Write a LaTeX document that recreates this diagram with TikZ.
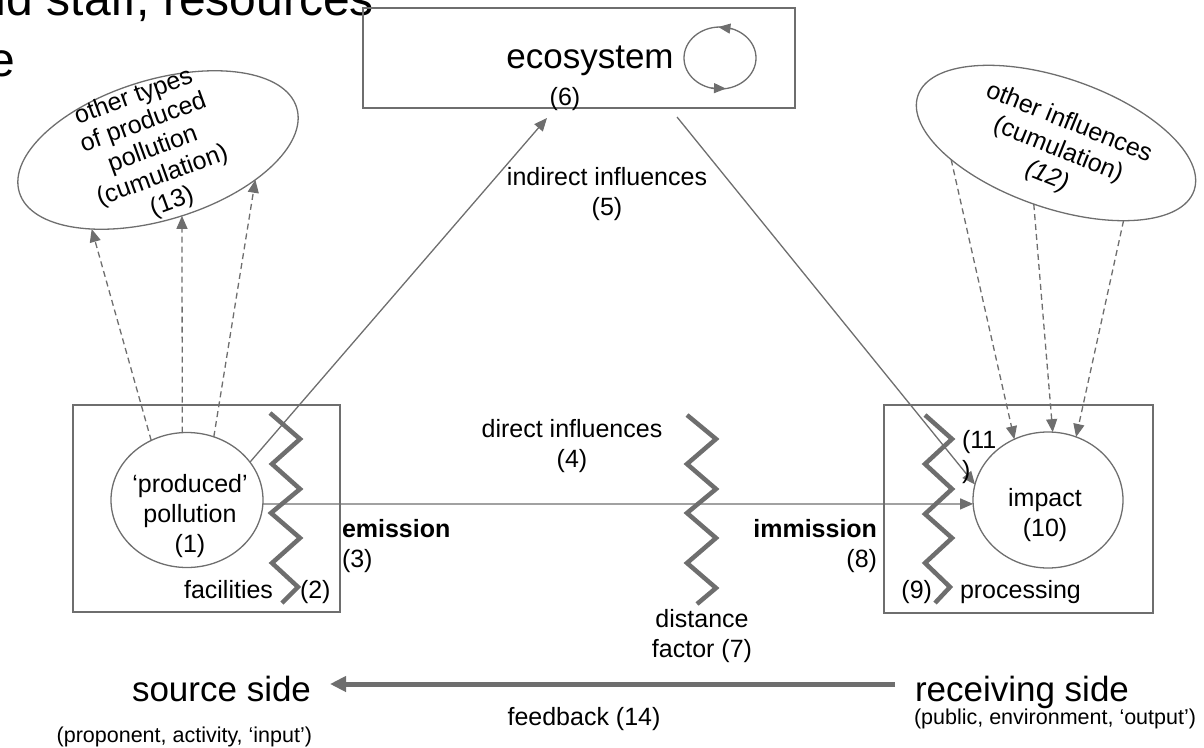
\documentclass[tikz,border=0pt]{standalone}
\usepackage{fontspec}
\setmainfont{Liberation Sans}
\usetikzlibrary{arrows.meta,shapes.geometric,calc}
\definecolor{ln}{HTML}{6E6E6E}
\begin{document}
\begin{tikzpicture}[x=1pt,y=-1pt,
  every node/.style={inner sep=0pt, outer sep=0pt},
  lbl/.style={font=\fontsize{25}{30}\selectfont, align=center},
  big/.style={font=\fontsize{35}{42}\selectfont},
  small/.style={font=\fontsize{21.5}{26}\selectfont},
  boxst/.style={draw=ln, line width=1.5pt, rectangle},
  ellst/.style={draw=ln, line width=1.3pt, ellipse},
  arr/.style={-{Triangle[length=13pt,width=11pt]}, draw=ln, line width=1.3pt},
  dsh/.style={arr, dash pattern=on 6pt off 4pt},
  zig/.style={draw=ln, line width=4.5pt, line join=miter},
  looptip/.style={-{Triangle[length=12pt,width=10pt]}, draw=ln, line width=1.3pt},
  fb/.style={-{Triangle[length=16pt,width=15pt]}, draw=ln, line width=5pt}]
\useasboundingbox (0,0) rectangle (1204,747);
\clip (0,0) rectangle (1204,747);

% title fragment
\node[font=\fontsize{48}{58}\selectfont, anchor=base west] (title1) at (-20,15) {nd staff, resources};
\node[font=\fontsize{48}{58}\selectfont, anchor=base west] (title2) at (-12,76) {e};

% boxes
\node[boxst, minimum width=432pt, minimum height=100pt] (eco) at (579,58) {};
\node[boxst, minimum width=267pt, minimum height=207pt] (lbox) at (206.5,508.5) {};
\node[boxst, minimum width=269pt, minimum height=208pt] (rbox) at (1018.5,509) {};

% ellipses
\node[ellst, minimum width=152pt, minimum height=135pt] (p1) at (187,500) {};
\node[ellst, minimum width=150pt, minimum height=136pt] (imp) at (1048,500) {};
\node[ellst, minimum width=290pt, minimum height=140pt, rotate=17] (e13) at (158,150) {};
\node[ellst, minimum width=292pt, minimum height=130pt, rotate=-19] (e12) at (1056,143) {};

% loop in ecosystem
\node[ellst, minimum width=72pt, minimum height=62pt] (loop) at (720,58) {};
\draw[looptip] (loop.67) -- (loop.93);
\draw[looptip] (loop.254) -- (loop.281);

% connectors
\draw[dsh] (p1.121.7) -- (e13.213);
\draw[dsh] (p1.94.2) -- (e13.273.3);
\draw[dsh] (p1.67.4) -- (e13.326.6);
\draw[dsh] (e12.208.6) -- (imp.119.7);
\draw[dsh] (e12.269) -- (imp.86.7);
\draw[dsh] (e12.330.4) -- (imp.66.8);
\draw[arr] (p1.-3.8) -- (imp.183.8);
\draw[arr] (p1.31.6) -- ($(eco.south west)+(184,10)$);
\draw[arr] ($(eco.south west)+(314,9)$) -- (imp.168.7);

% zigzags
\draw[zig] (270,413) -- (300,439) -- (272,464) -- (300,489) -- (271,513) -- (300,538) -- (272,563) -- (298,587) -- (282,603);
\draw[zig] (687,415) -- (716,439) -- (687,464) -- (716,489) -- (687,513) -- (716,538) -- (687,563) -- (716,588) -- (697,604);
\draw[zig] (925,415) -- (952,439) -- (925,464) -- (952,489) -- (925,514) -- (952,538) -- (925,563) -- (950,587) -- (935,603);

% labels
\node[big, anchor=base] (ecotxt) at (590,68) {ecosystem};
\node[lbl, anchor=base] (eco6) at (565,105) {(6)};
\node[lbl] (t1) at (190,516) {‘produced’\\pollution\\(1)};
\node[lbl] (t10) at (1045,515) {impact\\(10)};
\node[lbl] (l5) at (607,194) {indirect influences\\(5)};
\node[lbl] (l4) at (572,446) {direct influences\\(4)};
\node[lbl] (l7) at (702,636) {distance\\factor (7)};
\node[lbl, align=left, anchor=west] (l3) at (342,546) {\textbf{emission}\\(3)};
\node[lbl, align=right, anchor=east] (l8) at (877,546) {\textbf{immission}\\(8)};
\node[lbl, align=left, anchor=west] (l11) at (962,457) {(11\\)};
\node[lbl, anchor=base east] (l2a) at (273,598) {facilities};
\node[lbl, anchor=base west] (l2) at (300,598) {(2)};
\node[lbl, anchor=base east] (l9) at (932,598) {(9)};
\node[lbl, anchor=base west] (l9a) at (960,598) {processing};
\node[font=\fontsize{25}{28}\selectfont, align=center, rotate=20] (t13) at (153,150) {other types\\of produced\\pollution\\(cumulation)\\(13)};
\node[font=\fontsize{25}{29}\selectfont, align=center, rotate=-22] (t12) at (1058,150) {other influences\\(cumulation)\\\textit{(12)}};

% bottom
\node[big, anchor=base east] (src) at (311,701) {source side};
\node[big, anchor=base west] (recv) at (915,701) {receiving side};
\node[small, anchor=base east] (srcsub) at (312,742) {(proponent, activity, ‘input’)};
\node[small, anchor=base west] (recvsub) at (914,724) {(public, environment, ‘output’)};
\node[lbl, anchor=base] (l14) at (584,725) {feedback (14)};
\draw[fb] ($(recv.base west)+(-20,-17)$) -- ($(src.base east)+(19,-17)$);
\end{tikzpicture}
\end{document}
